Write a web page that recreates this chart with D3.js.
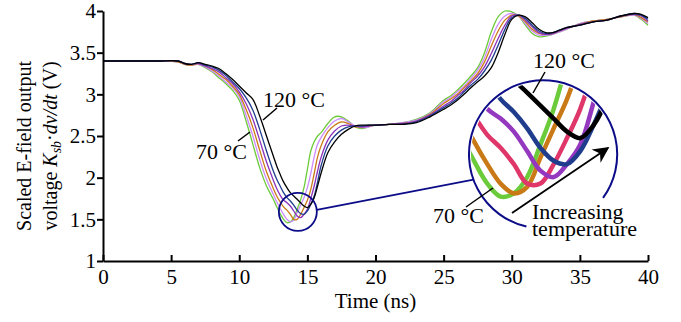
<!DOCTYPE html>
<html>
<head>
<meta charset="utf-8">
<script src="https://cdn.jsdelivr.net/npm/d3@7"></script>
<style>
body { margin: 0; background: #fff; }
text { font-family: "Liberation Serif", "Times New Roman", serif; }
</style>
</head>
<body>
<div id="chart"></div>
<script>
// time grid (ns) shared by all curves, finer around the dip
var times = [0, 2, 4, 5.5, 6, 6.5, 7, 7.5, 8, 8.5, 9, 9.5,
  10, 10.5, 11, 11.5, 12, 12.5, 12.75, 13, 13.25, 13.5, 13.75, 14, 14.25, 14.5, 14.75, 15, 15.25, 15.5, 15.75, 16,
  16.5, 17, 17.5, 18, 18.5, 19, 19.5, 20,
  21, 22, 23, 24, 25,
  25.5, 26, 26.5, 27, 27.5, 28, 28.5, 29, 29.5, 30, 30.5, 31, 31.5, 32, 32.5, 33, 33.5, 34,
  35, 36, 37, 38, 39, 39.5, 40];

// scaled E-field output (V), one array per temperature
var v70 = [3.40, 3.40, 3.40, 3.39, 3.36, 3.35, 3.36, 3.32, 3.27, 3.20, 3.13, 3.05,
  2.93, 2.68, 2.40, 2.12, 1.90, 1.74, 1.65, 1.57, 1.50, 1.46, 1.47, 1.52, 1.62, 1.73, 1.88, 2.10, 2.32, 2.43, 2.50, 2.54,
  2.65, 2.73, 2.73, 2.68, 2.61, 2.59, 2.61, 2.63,
  2.64, 2.66, 2.70, 2.78, 2.93,
  2.98, 3.05, 3.13, 3.22, 3.32, 3.50, 3.75, 3.93, 4.00, 3.99, 3.94, 3.83, 3.73, 3.69, 3.70, 3.72, 3.75, 3.78,
  3.85, 3.88, 3.90, 3.93, 3.95, 3.90, 3.83];
var v80 = [3.40, 3.40, 3.40, 3.39, 3.36, 3.35, 3.36, 3.33, 3.28, 3.22, 3.15, 3.08,
  2.97, 2.75, 2.50, 2.22, 1.98, 1.80, 1.71, 1.63, 1.56, 1.50, 1.47, 1.49, 1.58, 1.67, 1.76, 1.88, 2.05, 2.25, 2.40, 2.48,
  2.60, 2.68, 2.71, 2.67, 2.62, 2.60, 2.61, 2.63,
  2.64, 2.66, 2.69, 2.77, 2.91,
  2.96, 3.03, 3.10, 3.19, 3.29, 3.44, 3.66, 3.84, 3.94, 3.97, 3.94, 3.85, 3.76, 3.71, 3.71, 3.72, 3.75, 3.78,
  3.85, 3.88, 3.90, 3.93, 3.95, 3.91, 3.85];
var v90 = [3.40, 3.40, 3.40, 3.39, 3.36, 3.35, 3.37, 3.34, 3.30, 3.24, 3.18, 3.10,
  3.00, 2.82, 2.60, 2.33, 2.07, 1.87, 1.78, 1.71, 1.65, 1.61, 1.56, 1.50, 1.50, 1.56, 1.64, 1.73, 1.86, 2.05, 2.25, 2.38,
  2.55, 2.63, 2.67, 2.65, 2.61, 2.61, 2.62, 2.63,
  2.64, 2.65, 2.68, 2.76, 2.89,
  2.94, 3.00, 3.08, 3.16, 3.25, 3.39, 3.58, 3.76, 3.89, 3.95, 3.94, 3.87, 3.78, 3.73, 3.72, 3.73, 3.76, 3.79,
  3.84, 3.88, 3.90, 3.93, 3.96, 3.92, 3.87];
var v100 = [3.40, 3.40, 3.40, 3.40, 3.37, 3.36, 3.37, 3.34, 3.31, 3.27, 3.20, 3.13,
  3.03, 2.89, 2.70, 2.45, 2.19, 1.97, 1.87, 1.79, 1.73, 1.70, 1.66, 1.60, 1.54, 1.52, 1.56, 1.62, 1.75, 1.90, 2.08, 2.24,
  2.45, 2.56, 2.62, 2.63, 2.62, 2.61, 2.62, 2.63,
  2.64, 2.65, 2.68, 2.75, 2.86,
  2.91, 2.98, 3.05, 3.14, 3.22, 3.33, 3.49, 3.67, 3.83, 3.94, 3.95, 3.89, 3.81, 3.74, 3.72, 3.73, 3.76, 3.79,
  3.84, 3.87, 3.89, 3.94, 3.96, 3.94, 3.88];
var v110 = [3.40, 3.40, 3.40, 3.40, 3.37, 3.36, 3.38, 3.35, 3.33, 3.29, 3.23, 3.15,
  3.07, 2.96, 2.81, 2.58, 2.32, 2.08, 1.98, 1.90, 1.82, 1.76, 1.72, 1.67, 1.61, 1.57, 1.56, 1.60, 1.68, 1.78, 1.95, 2.14,
  2.38, 2.50, 2.57, 2.61, 2.62, 2.62, 2.63, 2.63,
  2.64, 2.64, 2.67, 2.74, 2.84,
  2.89, 2.95, 3.03, 3.11, 3.18, 3.28, 3.41, 3.59, 3.78, 3.92, 3.95, 3.91, 3.83, 3.76, 3.73, 3.74, 3.77, 3.80,
  3.83, 3.87, 3.89, 3.94, 3.97, 3.95, 3.90];
var v120 = [3.40, 3.40, 3.40, 3.40, 3.37, 3.36, 3.38, 3.36, 3.34, 3.31, 3.25, 3.18,
  3.10, 3.02, 2.94, 2.74, 2.50, 2.26, 2.14, 2.04, 1.95, 1.88, 1.82, 1.78, 1.74, 1.70, 1.66, 1.64, 1.68, 1.76, 1.90, 2.05,
  2.30, 2.43, 2.52, 2.58, 2.62, 2.63, 2.63, 2.63,
  2.64, 2.64, 2.66, 2.73, 2.82,
  2.87, 2.93, 3.00, 3.08, 3.15, 3.22, 3.32, 3.50, 3.72, 3.90, 3.95, 3.93, 3.86, 3.78, 3.74, 3.74, 3.77, 3.80,
  3.83, 3.87, 3.89, 3.94, 3.97, 3.96, 3.92];

var series = [v70, v80, v90, v100, v110, v120];
var mainColors = ["#6ccb3a", "#cc8cff", "#c97a16", "#8c33bb", "#1f3d8c", "#000000"];
var insetColors = ["#6ccb3a", "#c97a16", "#e0376a", "#9438c0", "#1f3d8c", "#000000"];
var xTicks = [0, 5, 10, 15, 20, 25, 30, 35, 40];
var yTicks = [1, 1.5, 2, 2.5, 3, 3.5, 4];

var W = 681, H = 322;
var navy = "#0c0c88";

var svg = d3.select("#chart").append("svg")
    .attr("width", W)
    .attr("height", H);

var x = d3.scaleLinear().domain([0, 40]).range([103, 648]);
var y = d3.scaleLinear().domain([1, 4]).range([261, 11]);

// main curves
var line = d3.line()
    .x(function (d, i) { return x(times[i]); })
    .y(function (d) { return y(d); })
    .curve(d3.curveCatmullRom.alpha(0.5));

svg.append("g").selectAll("path")
    .data(series)
    .enter()
    .append("path")
    .attr("d", line)
    .attr("fill", "none")
    .attr("stroke", function (d, i) { return mainColors[i]; })
    .attr("stroke-width", 1.3);

// axes
var xAxis = svg.append("g")
    .attr("transform", "translate(0," + y(1) + ")")
    .call(d3.axisBottom(x).tickValues(xTicks).tickSizeInner(-6).tickSizeOuter(0).tickPadding(8));
var yAxis = svg.append("g")
    .attr("transform", "translate(" + x(0) + ",0)")
    .call(d3.axisLeft(y).tickValues(yTicks).tickSizeInner(6).tickSizeOuter(0).tickPadding(1)
        .tickFormat(d3.format("~g")));

[xAxis, yAxis].forEach(function (a) {
    a.selectAll("path, line").attr("stroke", "#000").attr("stroke-width", 2);
    a.selectAll("text")
        .attr("fill", "#000")
        .style("font-size", "21px")
        .style("font-family", "'Liberation Serif', serif");
});

svg.append("text")
    .attr("x", (x(0) + x(40)) / 2)
    .attr("y", 308)
    .attr("text-anchor", "middle")
    .style("font-size", "21px")
    .text("Time (ns)");

svg.append("text")
    .attr("transform", "rotate(-90)")
    .attr("x", -146)
    .attr("y", 31)
    .attr("text-anchor", "middle")
    .style("font-size", "20px")
    .text("Scaled E-field output");

var yt = svg.append("text")
    .attr("transform", "rotate(-90)")
    .attr("x", -146)
    .attr("y", 57)
    .attr("text-anchor", "middle")
    .style("font-size", "20px");
yt.append("tspan").text("voltage ");
yt.append("tspan").style("font-style", "italic").text("K");
yt.append("tspan").style("font-style", "italic").style("font-size", "14px").attr("dy", 4).text("sb");
yt.append("tspan").attr("dy", -4).text("\u00b7");
yt.append("tspan").style("font-style", "italic").text("dv/dt");
yt.append("tspan").text(" (V)");

// magnifier
var zoomT = 14.3, zoomV = 1.59;   // centre of the small circle (data units)
var insetT = 32.3, insetV = 2.28; // centre of the big circle (data units)
var mag = 3.9, rSmall = 19, rBig = rSmall * mag;
var sx = x(zoomT), sy = y(zoomV), cx = x(insetT), cy = y(insetV);

var xi = d3.scaleLinear().domain(x.domain())
    .range(x.range().map(function (p) { return cx + (p - sx) * mag; }));
var yi = d3.scaleLinear().domain(y.domain())
    .range(y.range().map(function (p) { return cy + (p - sy) * mag; }));

svg.append("clipPath").attr("id", "lens")
    .append("circle").attr("cx", cx).attr("cy", cy).attr("r", rBig - 2);

var insetLine = d3.line()
    .x(function (d, i) { return xi(times[i]); })
    .y(function (d) { return yi(d); })
    .curve(d3.curveCatmullRom.alpha(0.5));

svg.append("g").attr("clip-path", "url(#lens)")
    .selectAll("path")
    .data(series)
    .enter()
    .append("path")
    .attr("d", insetLine)
    .attr("fill", "none")
    .attr("stroke", function (d, i) { return insetColors[i]; })
    .attr("stroke-width", 4.5)
    .attr("stroke-linecap", "round")
    .attr("stroke-linejoin", "round");

svg.append("circle")
    .attr("cx", sx).attr("cy", sy).attr("r", rSmall)
    .attr("fill", "none").attr("stroke", navy).attr("stroke-width", 1.8);

var deg = Math.PI / 180;
var big = d3.path();
big.arc(cx, cy, rBig, 103 * deg, 396 * deg);
svg.append("path").attr("d", big.toString())
    .attr("fill", "none").attr("stroke", navy).attr("stroke-width", 2);

var a1 = -6 * deg, a2 = 160 * deg;
svg.append("line")
    .attr("x1", sx + rSmall * Math.cos(a1)).attr("y1", sy + rSmall * Math.sin(a1))
    .attr("x2", cx + rBig * Math.cos(a2)).attr("y2", cy + rBig * Math.sin(a2))
    .attr("stroke", navy).attr("stroke-width", 1.8);

// labels
function label(txt, px, py) {
    svg.append("text").attr("x", px).attr("y", py)
        .style("font-size", "22px").text(txt);
}
function leader(x1, y1, x2, y2, w) {
    svg.append("line").attr("x1", x1).attr("y1", y1).attr("x2", x2).attr("y2", y2)
        .attr("stroke", "#000").attr("stroke-width", w || 1.5);
}

label("120 \u00b0C", 263, 107);
leader(277, 108, 263, 120);
label("70 \u00b0C", 196, 159);
leader(238, 141, 250, 132);

label("120 \u00b0C", 533, 68);
leader(545, 72, 533, 93);
label("70 \u00b0C", 433, 223);
leader(466, 207, 493, 188);

label("Increasing", 532, 219);
label("temperature", 532, 236);

svg.append("defs").append("marker")
    .attr("id", "head")
    .attr("viewBox", "0 0 10 10")
    .attr("refX", 9).attr("refY", 5)
    .attr("markerWidth", 20).attr("markerHeight", 16)
    .attr("markerUnits", "userSpaceOnUse")
    .attr("orient", "auto")
    .append("path").attr("d", "M0,0 L10,5 L0,10 L3,5 Z").attr("fill", "#000");
svg.append("line")
    .attr("x1", 512).attr("y1", 213).attr("x2", 608).attr("y2", 148)
    .attr("stroke", "#000").attr("stroke-width", 1.8)
    .attr("marker-end", "url(#head)");
</script>
</body>
</html>
